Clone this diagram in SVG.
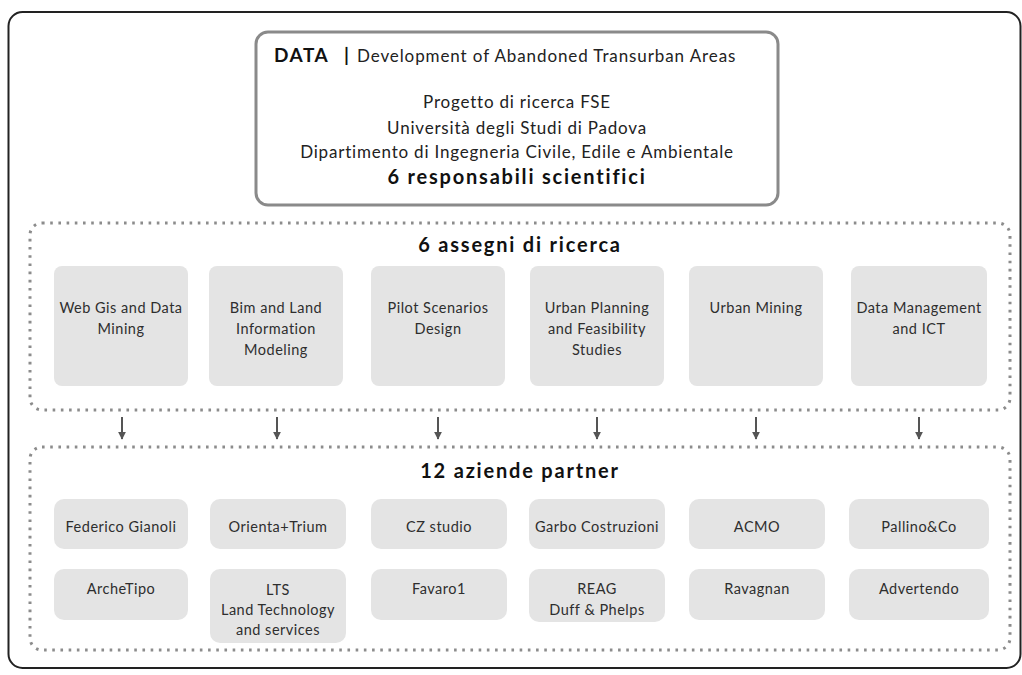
<svg xmlns="http://www.w3.org/2000/svg" width="1022" height="675" viewBox="0 0 1022 675">
<defs>
<style>
.frame{fill:#fff;stroke:#222;stroke-width:2}
.head{fill:#fff;stroke:#8a8a8a;stroke-width:3}
.dot{fill:none;stroke:#8c8c8c;stroke-width:3;stroke-dasharray:2.6 5.6}
.box{fill:#e4e4e4}
.t{font-family:Lato,"Liberation Sans",sans-serif;fill:#2e2e2e;text-anchor:middle;font-size:14.5px;letter-spacing:0.5px}
.h{font-family:Lato,"Liberation Sans",sans-serif;fill:#111;font-weight:bold;text-anchor:middle;font-size:20px;letter-spacing:1.8px}
.m{font-family:Lato,"Liberation Sans",sans-serif;fill:#222;text-anchor:middle;font-size:17px;letter-spacing:0.8px}
.arr{stroke:#555;stroke-width:2;fill:none}
</style>
<marker id="ah" viewBox="0 0 10 10" refX="9" refY="5" markerWidth="4" markerHeight="4" orient="auto" markerUnits="strokeWidth">
<path d="M0,0 L10,5 L0,10 z" fill="#555"/>
</marker>
</defs>
<rect width="1022" height="675" fill="#fff"/>
<rect class="frame" x="8.5" y="12" width="1012" height="656" rx="14"/>

<g id="header">
<rect class="head" x="256" y="32" width="522" height="173" rx="12"/>
<text x="274" y="62" font-family="Lato,'Liberation Sans',sans-serif" font-weight="bold" font-size="19" letter-spacing="1.5" fill="#111">DATA</text>
<text x="344" y="62" font-family="Lato,'Liberation Sans',sans-serif" font-weight="bold" font-size="19" fill="#111">|</text>
<text x="357" y="62" font-family="Lato,'Liberation Sans',sans-serif" font-size="17" letter-spacing="0.9" fill="#222">Development of Abandoned Transurban Areas</text>
<text class="m" x="517" y="108">Progetto di ricerca FSE</text>
<text class="m" x="517" y="134">Università degli Studi di Padova</text>
<text class="m" x="517" y="158">Dipartimento di Ingegneria Civile, Edile e Ambientale</text>
<text class="h" x="517" y="184" font-size="22" letter-spacing="2">6 responsabili scientifici</text>
</g>

<g id="assegni">
<rect class="dot" x="30" y="223" width="980" height="187" rx="12"/>
<text class="h" x="520" y="252">6 assegni di ricerca</text>
<g id="a1"><rect class="box" x="54" y="266" width="134" height="120" rx="8"/><text class="t" x="121" y="313">Web Gis and Data</text><text class="t" x="121" y="334">Mining</text></g>
<g id="a2"><rect class="box" x="209" y="266" width="134" height="120" rx="8"/><text class="t" x="276" y="313">Bim and Land</text><text class="t" x="276" y="334">Information</text><text class="t" x="276" y="355">Modeling</text></g>
<g id="a3"><rect class="box" x="371" y="266" width="134" height="120" rx="8"/><text class="t" x="438" y="313">Pilot Scenarios</text><text class="t" x="438" y="334">Design</text></g>
<g id="a4"><rect class="box" x="530" y="266" width="134" height="120" rx="8"/><text class="t" x="597" y="313">Urban Planning</text><text class="t" x="597" y="334">and Feasibility</text><text class="t" x="597" y="355">Studies</text></g>
<g id="a5"><rect class="box" x="689" y="266" width="134" height="120" rx="8"/><text class="t" x="756" y="313">Urban Mining</text></g>
<g id="a6"><rect class="box" x="851" y="266" width="136" height="120" rx="8"/><text class="t" x="919" y="313">Data Management</text><text class="t" x="919" y="334">and ICT</text></g>
</g>

<g id="connectors">
<line class="arr" x1="122" y1="417" x2="122" y2="439" marker-end="url(#ah)"/>
<line class="arr" x1="277" y1="417" x2="277" y2="439" marker-end="url(#ah)"/>
<line class="arr" x1="438" y1="417" x2="438" y2="439" marker-end="url(#ah)"/>
<line class="arr" x1="597" y1="417" x2="597" y2="439" marker-end="url(#ah)"/>
<line class="arr" x1="756" y1="417" x2="756" y2="439" marker-end="url(#ah)"/>
<line class="arr" x1="919" y1="417" x2="919" y2="439" marker-end="url(#ah)"/>
</g>

<g id="partner">
<rect class="dot" x="30" y="447" width="980" height="203" rx="12"/>
<text class="h" x="520" y="478">12 aziende partner</text>
<g id="p1"><rect class="box" x="54" y="499" width="134" height="50" rx="10"/><text class="t" x="121" y="532">Federico Gianoli</text></g>
<g id="p2"><rect class="box" x="210" y="499" width="136" height="50" rx="10"/><text class="t" x="278" y="532">Orienta+Trium</text></g>
<g id="p3"><rect class="box" x="371" y="499" width="136" height="50" rx="10"/><text class="t" x="439" y="532">CZ studio</text></g>
<g id="p4"><rect class="box" x="529" y="499" width="136" height="50" rx="10"/><text class="t" x="597" y="532">Garbo Costruzioni</text></g>
<g id="p5"><rect class="box" x="689" y="499" width="136" height="50" rx="10"/><text class="t" x="757" y="532">ACMO</text></g>
<g id="p6"><rect class="box" x="849" y="499" width="140" height="50" rx="10"/><text class="t" x="919" y="532">Pallino&amp;Co</text></g>
<g id="p7"><rect class="box" x="54" y="569" width="134" height="51" rx="10"/><text class="t" x="121" y="594">ArcheTipo</text></g>
<g id="p8"><rect class="box" x="210" y="569" width="136" height="74" rx="10"/><text class="t" x="278" y="595">LTS</text><text class="t" x="278" y="615">Land Technology</text><text class="t" x="278" y="635">and services</text></g>
<g id="p9"><rect class="box" x="371" y="569" width="136" height="51" rx="10"/><text class="t" x="439" y="594">Favaro1</text></g>
<g id="p10"><rect class="box" x="529" y="569" width="136" height="53" rx="10"/><text class="t" x="597" y="594">REAG</text><text class="t" x="597" y="615">Duff &amp;  Phelps</text></g>
<g id="p11"><rect class="box" x="689" y="569" width="136" height="51" rx="10"/><text class="t" x="757" y="594">Ravagnan</text></g>
<g id="p12"><rect class="box" x="849" y="569" width="140" height="51" rx="10"/><text class="t" x="919" y="594">Advertendo</text></g>
</g>
</svg>
